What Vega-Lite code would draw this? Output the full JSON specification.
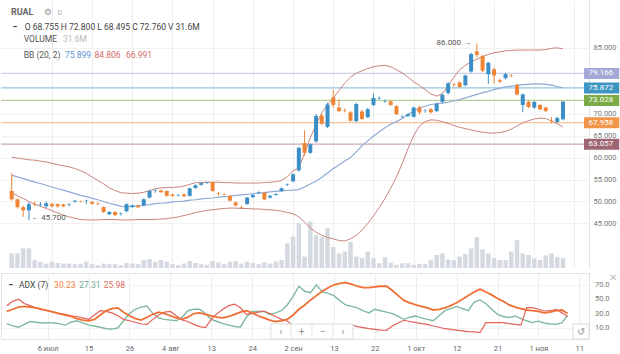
{
"$schema":"https://vega.github.io/schema/vega-lite/v6.json",
"padding":0,
"background":"white",
"config":{"view":{"stroke":null},"font":"Roboto","axis":{"labelFont":"Roboto","labelOverlap":false},"text":{"font":"Roboto"}},
"data":{"values":[
{"i":0,"o":52.4,"h":56.4,"l":50.2,"c":50.5,"v":46,"bu":60.1,"bm":56.0,"bl":52.0,"adx":33,"pdi":16,"mdi":41},
{"i":1,"o":50.5,"h":50.6,"l":48.4,"c":48.7,"v":46,"bu":59.9,"bm":55.6,"bl":51.3,"adx":36,"pdi":13,"mdi":47},
{"i":2,"o":48.7,"h":49.0,"l":46.5,"c":48.0,"v":62,"bu":59.7,"bm":55.2,"bl":50.7,"adx":39,"pdi":11,"mdi":50},
{"i":3,"o":48.0,"h":49.8,"l":45.7,"c":49.4,"v":62,"bu":59.5,"bm":54.8,"bl":50.0,"adx":40,"pdi":15,"mdi":44},
{"i":4,"o":49.4,"h":50.0,"l":48.9,"c":49.3,"v":25,"bu":59.4,"bm":54.4,"bl":49.4,"adx":39,"pdi":19,"mdi":41},
{"i":5,"o":49.3,"h":49.9,"l":48.8,"c":49.4,"v":20,"bu":59.2,"bm":54.1,"bl":48.9,"adx":38,"pdi":18,"mdi":38},
{"i":6,"o":48.9,"h":50.0,"l":48.5,"c":49.6,"v":14,"bu":59.0,"bm":53.7,"bl":48.4,"adx":36,"pdi":17,"mdi":36},
{"i":7,"o":49.4,"h":49.7,"l":48.7,"c":48.9,"v":20,"bu":58.7,"bm":53.3,"bl":47.9,"adx":34,"pdi":17.5,"mdi":34},
{"i":8,"o":49.4,"h":49.6,"l":48.6,"c":48.9,"v":16,"bu":58.4,"bm":52.9,"bl":47.4,"adx":32,"pdi":17,"mdi":32},
{"i":9,"o":49.3,"h":49.5,"l":48.7,"c":48.9,"v":14,"bu":58.1,"bm":52.6,"bl":46.9,"adx":30,"pdi":16,"mdi":30},
{"i":10,"o":49.2,"h":49.6,"l":48.9,"c":49.3,"v":14,"bu":57.9,"bm":52.2,"bl":46.5,"adx":28,"pdi":14,"mdi":29},
{"i":11,"o":50.0,"h":50.3,"l":49.7,"c":50.2,"v":12,"bu":57.5,"bm":51.8,"bl":46.2,"adx":26,"pdi":18,"mdi":27},
{"i":12,"o":50.1,"h":50.2,"l":49.8,"c":50.0,"v":14,"bu":57.0,"bm":51.4,"bl":45.9,"adx":23,"pdi":20,"mdi":26},
{"i":13,"o":50.1,"h":50.4,"l":49.4,"c":50.2,"v":20,"bu":56.4,"bm":51.1,"bl":45.8,"adx":21,"pdi":17,"mdi":24},
{"i":14,"o":49.9,"h":50.1,"l":49.3,"c":49.5,"v":12,"bu":55.6,"bm":50.7,"bl":45.8,"adx":20,"pdi":14,"mdi":22},
{"i":15,"o":49.5,"h":49.8,"l":49.2,"c":49.4,"v":9,"bu":54.8,"bm":50.4,"bl":45.8,"adx":22,"pdi":12.8,"mdi":28},
{"i":16,"o":48.7,"h":48.9,"l":47.4,"c":47.6,"v":14,"bu":54.0,"bm":50.0,"bl":45.9,"adx":28,"pdi":11,"mdi":34},
{"i":17,"o":47.1,"h":47.8,"l":46.9,"c":47.6,"v":12,"bu":53.1,"bm":49.6,"bl":45.9,"adx":34,"pdi":9,"mdi":33},
{"i":18,"o":47.6,"h":47.8,"l":46.7,"c":46.9,"v":12,"bu":52.5,"bm":49.3,"bl":45.9,"adx":37,"pdi":8.5,"mdi":31},
{"i":19,"o":47.2,"h":47.5,"l":46.8,"c":47.3,"v":9,"bu":52.0,"bm":48.9,"bl":45.8,"adx":38,"pdi":10,"mdi":27},
{"i":20,"o":47.8,"h":49.6,"l":47.5,"c":49.4,"v":16,"bu":51.9,"bm":48.8,"bl":45.8,"adx":32,"pdi":20,"mdi":22},
{"i":21,"o":48.7,"h":49.3,"l":48.6,"c":49.1,"v":14,"bu":51.8,"bm":48.9,"bl":45.8,"adx":27,"pdi":30,"mdi":20},
{"i":22,"o":49.1,"h":49.3,"l":48.5,"c":48.7,"v":12,"bu":51.9,"bm":49.0,"bl":45.9,"adx":23,"pdi":36,"mdi":18},
{"i":23,"o":49.1,"h":50.7,"l":48.9,"c":50.5,"v":25,"bu":52.1,"bm":49.2,"bl":45.9,"adx":21,"pdi":39,"mdi":15.5},
{"i":24,"o":50.9,"h":52.6,"l":50.7,"c":52.4,"v":28,"bu":52.5,"bm":49.3,"bl":45.9,"adx":25,"pdi":40.6,"mdi":15},
{"i":25,"o":52.4,"h":52.8,"l":52.0,"c":52.5,"v":20,"bu":52.9,"bm":49.5,"bl":45.9,"adx":29,"pdi":30,"mdi":22},
{"i":26,"o":52.5,"h":52.7,"l":52.0,"c":52.1,"v":25,"bu":53.1,"bm":49.6,"bl":46.0,"adx":32,"pdi":24,"mdi":28},
{"i":27,"o":52.4,"h":52.5,"l":51.1,"c":51.3,"v":20,"bu":53.2,"bm":49.7,"bl":46.1,"adx":30,"pdi":22,"mdi":32},
{"i":28,"o":51.6,"h":51.8,"l":51.1,"c":51.3,"v":12,"bu":53.2,"bm":49.9,"bl":46.3,"adx":27,"pdi":21,"mdi":33},
{"i":29,"o":51.4,"h":51.7,"l":51.2,"c":51.5,"v":9,"bu":53.3,"bm":50.0,"bl":46.5,"adx":24,"pdi":20,"mdi":27},
{"i":30,"o":51.6,"h":51.8,"l":51.0,"c":51.2,"v":14,"bu":53.5,"bm":50.1,"bl":46.8,"adx":22,"pdi":25,"mdi":21},
{"i":31,"o":51.3,"h":53.2,"l":51.1,"c":53.0,"v":22,"bu":53.9,"bm":50.3,"bl":47.1,"adx":25,"pdi":34,"mdi":19},
{"i":32,"o":53.1,"h":53.9,"l":52.9,"c":53.7,"v":16,"bu":54.3,"bm":50.4,"bl":47.5,"adx":30,"pdi":36,"mdi":15},
{"i":33,"o":53.8,"h":54.4,"l":53.6,"c":54.2,"v":12,"bu":54.3,"bm":50.6,"bl":47.7,"adx":31,"pdi":36,"mdi":12},
{"i":34,"o":54.2,"h":54.4,"l":54.0,"c":54.3,"v":10,"bu":54.4,"bm":50.7,"bl":48.0,"adx":29,"pdi":30,"mdi":10.5},
{"i":35,"o":54.4,"h":54.5,"l":52.2,"c":52.4,"v":22,"bu":54.4,"bm":50.8,"bl":48.1,"adx":27,"pdi":22,"mdi":22},
{"i":36,"o":51.9,"h":52.2,"l":51.4,"c":51.8,"v":18,"bu":54.4,"bm":51.0,"bl":48.3,"adx":25,"pdi":19,"mdi":30},
{"i":37,"o":51.7,"h":51.9,"l":51.4,"c":51.6,"v":12,"bu":54.3,"bm":51.1,"bl":48.4,"adx":24,"pdi":16,"mdi":36},
{"i":38,"o":51.3,"h":51.5,"l":50.0,"c":50.2,"v":20,"bu":54.3,"bm":51.2,"bl":48.5,"adx":26,"pdi":14,"mdi":41},
{"i":39,"o":49.8,"h":50.0,"l":48.9,"c":49.1,"v":22,"bu":54.2,"bm":51.4,"bl":48.5,"adx":29,"pdi":12,"mdi":43},
{"i":40,"o":48.7,"h":49.0,"l":48.3,"c":48.6,"v":14,"bu":54.2,"bm":51.5,"bl":48.4,"adx":32,"pdi":11.5,"mdi":38},
{"i":41,"o":49.4,"h":51.0,"l":49.3,"c":50.9,"v":20,"bu":54.2,"bm":51.6,"bl":48.4,"adx":34,"pdi":25,"mdi":29},
{"i":42,"o":51.0,"h":51.6,"l":50.8,"c":51.5,"v":16,"bu":54.2,"bm":51.8,"bl":48.3,"adx":31,"pdi":33,"mdi":30},
{"i":43,"o":52.0,"h":52.3,"l":51.7,"c":52.1,"v":12,"bu":54.2,"bm":51.9,"bl":48.3,"adx":27,"pdi":33,"mdi":32},
{"i":44,"o":52.0,"h":52.2,"l":50.3,"c":50.5,"v":18,"bu":54.3,"bm":52.0,"bl":48.2,"adx":24,"pdi":33,"mdi":33.6},
{"i":45,"o":50.9,"h":51.5,"l":50.7,"c":51.3,"v":14,"bu":54.4,"bm":52.2,"bl":48.1,"adx":21,"pdi":29,"mdi":30},
{"i":46,"o":51.5,"h":51.9,"l":51.3,"c":51.7,"v":20,"bu":54.5,"bm":52.3,"bl":48.0,"adx":19,"pdi":31,"mdi":26},
{"i":47,"o":52.4,"h":53.2,"l":52.2,"c":53.0,"v":25,"bu":54.8,"bm":52.4,"bl":47.8,"adx":20,"pdi":34,"mdi":22},
{"i":48,"o":53.8,"h":54.1,"l":53.5,"c":53.9,"v":78,"bu":55.7,"bm":52.5,"bl":47.5,"adx":22,"pdi":42,"mdi":19.8},
{"i":49,"o":54.6,"h":56.4,"l":54.4,"c":56.2,"v":99,"bu":57.0,"bm":52.6,"bl":47.2,"adx":28,"pdi":54,"mdi":13},
{"i":50,"o":57.1,"h":62.5,"l":56.8,"c":62.2,"v":141,"bu":57.6,"bm":52.7,"bl":46.5,"adx":36,"pdi":68,"mdi":10},
{"i":51,"o":63.3,"h":66.2,"l":60.4,"c":61.1,"v":36,"bu":61.0,"bm":53.3,"bl":45.3,"adx":42,"pdi":61,"mdi":13},
{"i":52,"o":61.1,"h":63.2,"l":60.8,"c":63.0,"v":146,"bu":64.5,"bm":54.0,"bl":44.0,"adx":49,"pdi":59,"mdi":11},
{"i":53,"o":63.7,"h":69.9,"l":63.4,"c":69.5,"v":104,"bu":67.5,"bm":54.6,"bl":43.0,"adx":55,"pdi":70,"mdi":9},
{"i":54,"o":69.5,"h":70.0,"l":67.5,"c":67.7,"v":98,"bu":70.2,"bm":55.5,"bl":42.3,"adx":61,"pdi":60,"mdi":12},
{"i":55,"o":67.0,"h":72.5,"l":66.7,"c":72.1,"v":125,"bu":72.0,"bm":56.5,"bl":41.8,"adx":66,"pdi":58,"mdi":10},
{"i":56,"o":73.7,"h":75.4,"l":71.4,"c":72.0,"v":66,"bu":73.5,"bm":57.5,"bl":41.5,"adx":70,"pdi":55,"mdi":11},
{"i":57,"o":71.4,"h":73.2,"l":70.3,"c":70.6,"v":46,"bu":75.3,"bm":58.3,"bl":41.1,"adx":72,"pdi":48,"mdi":13},
{"i":58,"o":70.7,"h":71.2,"l":70.3,"c":70.6,"v":52,"bu":77.0,"bm":59.2,"bl":41.0,"adx":73,"pdi":42,"mdi":15},
{"i":59,"o":70.3,"h":70.6,"l":68.2,"c":68.4,"v":83,"bu":78.3,"bm":60.0,"bl":41.5,"adx":71,"pdi":40,"mdi":14.5},
{"i":60,"o":68.3,"h":72.5,"l":68.1,"c":72.2,"v":36,"bu":79.2,"bm":61.3,"bl":42.3,"adx":68,"pdi":38,"mdi":12},
{"i":61,"o":70.5,"h":70.9,"l":68.6,"c":68.8,"v":31,"bu":79.8,"bm":62.7,"bl":43.5,"adx":66,"pdi":34,"mdi":10.5},
{"i":62,"o":69.2,"h":71.3,"l":69.0,"c":71.0,"v":52,"bu":80.3,"bm":63.8,"bl":45.0,"adx":66,"pdi":31,"mdi":9},
{"i":63,"o":72.0,"h":74.6,"l":71.7,"c":73.6,"v":31,"bu":80.7,"bm":64.9,"bl":46.7,"adx":67,"pdi":36,"mdi":8},
{"i":64,"o":73.5,"h":73.9,"l":73.2,"c":73.6,"v":15,"bu":80.9,"bm":65.9,"bl":48.6,"adx":68,"pdi":34,"mdi":7},
{"i":65,"o":72.8,"h":73.2,"l":72.5,"c":72.9,"v":34,"bu":81.0,"bm":66.8,"bl":50.7,"adx":68,"pdi":32,"mdi":6.8},
{"i":66,"o":72.8,"h":73.1,"l":71.8,"c":72.0,"v":17,"bu":80.7,"bm":67.6,"bl":53.0,"adx":62,"pdi":30,"mdi":12.8},
{"i":67,"o":71.7,"h":72.0,"l":69.7,"c":69.9,"v":10,"bu":80.0,"bm":68.2,"bl":55.6,"adx":55,"pdi":26,"mdi":17},
{"i":68,"o":69.3,"h":69.6,"l":69.0,"c":69.35,"v":15,"bu":79.3,"bm":68.9,"bl":58.6,"adx":48,"pdi":22,"mdi":20.7},
{"i":69,"o":69.5,"h":70.0,"l":69.2,"c":69.9,"v":15,"bu":78.3,"bm":69.8,"bl":62.0,"adx":45,"pdi":25,"mdi":19},
{"i":70,"o":69.3,"h":71.6,"l":69.1,"c":71.4,"v":10,"bu":77.3,"bm":70.6,"bl":65.0,"adx":42,"pdi":26.7,"mdi":17.4},
{"i":71,"o":71.4,"h":71.8,"l":69.8,"c":70.3,"v":13,"bu":76.4,"bm":71.3,"bl":67.2,"adx":40,"pdi":24,"mdi":16},
{"i":72,"o":70.6,"h":71.0,"l":70.2,"c":70.65,"v":13,"bu":75.5,"bm":71.7,"bl":68.2,"adx":38,"pdi":22,"mdi":15},
{"i":73,"o":71.0,"h":71.3,"l":70.0,"c":70.3,"v":25,"bu":74.5,"bm":72.1,"bl":68.6,"adx":35,"pdi":20,"mdi":12.8},
{"i":74,"o":70.6,"h":72.5,"l":70.4,"c":72.2,"v":41,"bu":74.0,"bm":72.3,"bl":68.5,"adx":36,"pdi":27,"mdi":11},
{"i":75,"o":72.7,"h":74.6,"l":72.4,"c":74.3,"v":46,"bu":74.6,"bm":72.4,"bl":68.2,"adx":38,"pdi":34,"mdi":9},
{"i":76,"o":74.7,"h":77.2,"l":74.4,"c":76.9,"v":27,"bu":76.3,"bm":72.6,"bl":67.8,"adx":41,"pdi":37,"mdi":8},
{"i":77,"o":76.6,"h":77.0,"l":76.2,"c":76.5,"v":25,"bu":78.3,"bm":72.9,"bl":67.3,"adx":45,"pdi":40,"mdi":7},
{"i":78,"o":77.1,"h":77.4,"l":75.9,"c":76.1,"v":36,"bu":80.0,"bm":73.2,"bl":66.9,"adx":50,"pdi":37,"mdi":6},
{"i":79,"o":76.5,"h":78.9,"l":76.2,"c":78.7,"v":44,"bu":81.0,"bm":73.6,"bl":66.6,"adx":55,"pdi":34,"mdi":5},
{"i":80,"o":79.6,"h":83.9,"l":79.3,"c":83.6,"v":62,"bu":81.8,"bm":74.0,"bl":66.3,"adx":60,"pdi":46,"mdi":4.5},
{"i":81,"o":84.2,"h":86.0,"l":82.8,"c":83.4,"v":97,"bu":82.4,"bm":74.4,"bl":66.0,"adx":64,"pdi":49,"mdi":3.6},
{"i":82,"o":83.1,"h":83.4,"l":79.5,"c":79.8,"v":59,"bu":83.0,"bm":74.8,"bl":65.8,"adx":60,"pdi":44,"mdi":17.4},
{"i":83,"o":79.0,"h":81.8,"l":76.8,"c":81.6,"v":46,"bu":83.5,"bm":75.1,"bl":65.6,"adx":56,"pdi":36,"mdi":17.4},
{"i":84,"o":80.1,"h":80.5,"l":76.9,"c":78.7,"v":31,"bu":83.9,"bm":75.5,"bl":65.6,"adx":51,"pdi":29,"mdi":17.4},
{"i":85,"o":77.6,"h":77.9,"l":77.0,"c":77.3,"v":25,"bu":84.1,"bm":75.8,"bl":65.7,"adx":47,"pdi":26,"mdi":17.4},
{"i":86,"o":78.1,"h":79.3,"l":77.8,"c":79.0,"v":25,"bu":84.3,"bm":76.1,"bl":66.0,"adx":42,"pdi":24.5,"mdi":16},
{"i":87,"o":78.7,"h":79.0,"l":78.3,"c":78.6,"v":52,"bu":84.4,"bm":76.3,"bl":66.5,"adx":39,"pdi":26.7,"mdi":15.1},
{"i":88,"o":76.5,"h":76.8,"l":74.2,"c":74.4,"v":88,"bu":84.5,"bm":76.5,"bl":67.2,"adx":37,"pdi":23,"mdi":14},
{"i":89,"o":72.0,"h":74.6,"l":70.3,"c":74.4,"v":46,"bu":84.5,"bm":76.6,"bl":67.9,"adx":35,"pdi":20,"mdi":38.3},
{"i":90,"o":72.7,"h":73.0,"l":71.3,"c":71.5,"v":41,"bu":84.5,"bm":76.7,"bl":68.4,"adx":34,"pdi":17.5,"mdi":38.3},
{"i":91,"o":71.4,"h":72.9,"l":71.1,"c":72.7,"v":30,"bu":84.5,"bm":76.8,"bl":68.8,"adx":33,"pdi":19.5,"mdi":36},
{"i":92,"o":72.0,"h":72.2,"l":70.8,"c":71.0,"v":25,"bu":84.5,"bm":76.8,"bl":69.0,"adx":31,"pdi":17,"mdi":33.6},
{"i":93,"o":71.4,"h":71.6,"l":70.4,"c":70.6,"v":40,"bu":84.6,"bm":76.7,"bl":68.9,"adx":32,"pdi":15.5,"mdi":34},
{"i":94,"o":68.5,"h":69.2,"l":67.8,"c":68.4,"v":46,"bu":84.9,"bm":76.5,"bl":68.3,"adx":34,"pdi":15,"mdi":36},
{"i":95,"o":68.1,"h":69.3,"l":67.9,"c":69.0,"v":34,"bu":85.0,"bm":76.2,"bl":67.7,"adx":35,"pdi":17,"mdi":31.3},
{"i":96,"o":68.755,"h":72.8,"l":68.495,"c":72.76,"v":31.6,"bu":84.806,"bm":75.899,"bl":66.991,"adx":30.23,"pdi":27.31,"mdi":25.98}
]},
"spacing":4,
"vconcat":[
{
"width":588,"height":268,
"resolve":{"scale":{"y":"independent"}},
"layer":[
{"mark":{"type":"bar","size":4.5,"color":"#d5dae0"},
 "encoding":{
  "x":{"field":"i","type":"quantitative","scale":{"domain":[-0.993,99.66],"nice":false,"zero":false},
       "axis":{"values":[7,14,21,28,35,42,49,56,63,70,77,84,91,98],"grid":true,"gridColor":"#eeeeee","labels":false,"ticks":false,"domain":false,"title":null}},
  "y":{"field":"v","type":"quantitative","scale":{"domain":[0,845],"nice":false},"axis":null}}},
{"layer":[
 {"data":{"values":[{"name":"L1","p":79.166},{"name":"L2","p":75.872},{"name":"L3","p":73.028},{"name":"L4","p":67.958},{"name":"L5","p":63.057}]},
  "mark":{"type":"rule","strokeWidth":1.3,"opacity":0.55},
  "encoding":{
   "y":{"field":"p","type":"quantitative","scale":{"domain":[35.99,94.76],"nice":false,"zero":false},
        "axis":{"orient":"right","values":[45,50,55,60,65,70,85],"format":".3f","labelOverlap":false,"grid":true,"gridColor":"#f1f1f1","ticks":false,"domain":true,"domainColor":"#e3e3e3","labelColor":"#777","labelFontSize":7.5,"labelPadding":4,"title":null}},
   "color":{"field":"name","type":"nominal","scale":{"domain":["L1","L2","L3","L4","L5"],"range":["#a3a8d6","#3d95c2","#7cab45","#f0954a","#9e6673"]},"legend":null}}},
 {"mark":{"type":"line","color":"#c98580","strokeWidth":1},
  "encoding":{"x":{"field":"i","type":"quantitative"},"y":{"field":"bu","type":"quantitative"}}},
 {"mark":{"type":"line","color":"#c98580","strokeWidth":1},
  "encoding":{"x":{"field":"i","type":"quantitative"},"y":{"field":"bl","type":"quantitative"}}},
 {"mark":{"type":"line","color":"#8eaad6","strokeWidth":1.2},
  "encoding":{"x":{"field":"i","type":"quantitative"},"y":{"field":"bm","type":"quantitative"}}},
 {"mark":{"type":"rule","strokeWidth":1},
  "encoding":{"x":{"field":"i","type":"quantitative"},"y":{"field":"l","type":"quantitative"},"y2":{"field":"h"},
   "color":{"condition":{"test":"datum.c >= datum.o","value":"#3a8fc6"},"value":"#ee8434"}}},
 {"mark":{"type":"bar","size":4},
  "encoding":{"x":{"field":"i","type":"quantitative"},"y":{"field":"o","type":"quantitative"},"y2":{"field":"c"},
   "color":{"condition":{"test":"datum.c >= datum.o","value":"#3a8fc6"},"value":"#ee8434"}}},
 {"data":{"values":[{"name":"L1","p":79.166},{"name":"L2","p":75.872},{"name":"L3","p":73.028},{"name":"L4","p":67.958},{"name":"L5","p":63.057}]},
  "mark":{"type":"bar","orient":"horizontal","size":11},
  "encoding":{"x":{"datum":99.66,"type":"quantitative"},"x2":{"datum":105.8},"y":{"field":"p","type":"quantitative"},
   "color":{"field":"name","type":"nominal","legend":null}}},
 {"data":{"values":[{"name":"L1","p":79.166},{"name":"L2","p":75.872},{"name":"L3","p":73.028},{"name":"L4","p":67.958},{"name":"L5","p":63.057}]},
  "mark":{"type":"text","color":"white","fontSize":8,"align":"center","baseline":"middle"},
  "encoding":{"x":{"datum":102.6,"type":"quantitative"},"y":{"field":"p","type":"quantitative"},"text":{"field":"p","type":"quantitative","format":".3f"}}},
 {"data":{"values":[{}]},"mark":{"type":"text","align":"left","baseline":"middle","fontSize":9,"fontWeight":"bold","color":"#666"},
  "encoding":{"x":{"datum":-0.14,"type":"quantitative"},"y":{"datum":93.16,"type":"quantitative"},"text":{"value":"RUAL"}}},
 {"data":{"values":[{}]},"mark":{"type":"text","align":"left","baseline":"middle","fontSize":9,"color":"#999"},
  "encoding":{"x":{"datum":5.6,"type":"quantitative"},"y":{"datum":93.16,"type":"quantitative"},"text":{"value":"⚙"}}},
 {"data":{"values":[{}]},"mark":{"type":"text","align":"left","baseline":"middle","fontSize":6.5,"color":"#aaa"},
  "encoding":{"x":{"datum":8.0,"type":"quantitative"},"y":{"datum":93.0,"type":"quantitative"},"text":{"value":"D"}}},
 {"data":{"values":[{}]},"mark":{"type":"text","align":"left","baseline":"middle","fontSize":9,"fontWeight":"bold","color":"#333"},
  "encoding":{"x":{"datum":0.1,"type":"quantitative"},"y":{"datum":89.65,"type":"quantitative"},"text":{"value":"−"}}},
 {"data":{"values":[{}]},"mark":{"type":"text","align":"left","baseline":"middle","fontSize":8.5,"color":"#444"},
  "encoding":{"x":{"datum":2.26,"type":"quantitative"},"y":{"datum":89.65,"type":"quantitative"},"text":{"value":"O 68.755  H 72.800  L 68.495  C 72.760  V 31.6M"}}},
 {"data":{"values":[{}]},"mark":{"type":"text","align":"left","baseline":"middle","fontSize":8.5,"color":"#555"},
  "encoding":{"x":{"datum":2.09,"type":"quantitative"},"y":{"datum":86.93,"type":"quantitative"},"text":{"value":"VOLUME"}}},
 {"data":{"values":[{}]},"mark":{"type":"text","align":"left","baseline":"middle","fontSize":8.5,"color":"#bbb"},
  "encoding":{"x":{"datum":8.94,"type":"quantitative"},"y":{"datum":86.93,"type":"quantitative"},"text":{"value":"31.6M"}}},
 {"data":{"values":[{}]},"mark":{"type":"text","align":"left","baseline":"middle","fontSize":8.5,"color":"#555"},
  "encoding":{"x":{"datum":2.09,"type":"quantitative"},"y":{"datum":83.42,"type":"quantitative"},"text":{"value":"BB (20, 2)"}}},
 {"data":{"values":[{}]},"mark":{"type":"text","align":"left","baseline":"middle","fontSize":8.5,"color":"#5b93d1"},
  "encoding":{"x":{"datum":9.28,"type":"quantitative"},"y":{"datum":83.42,"type":"quantitative"},"text":{"value":"75.899"}}},
 {"data":{"values":[{}]},"mark":{"type":"text","align":"left","baseline":"middle","fontSize":8.5,"color":"#d36a6a"},
  "encoding":{"x":{"datum":14.4,"type":"quantitative"},"y":{"datum":83.42,"type":"quantitative"},"text":{"value":"84.806"}}},
 {"data":{"values":[{}]},"mark":{"type":"text","align":"left","baseline":"middle","fontSize":8.5,"color":"#d36a6a"},
  "encoding":{"x":{"datum":19.9,"type":"quantitative"},"y":{"datum":83.42,"type":"quantitative"},"text":{"value":"66.991"}}},
 {"data":{"values":[{}]},"mark":{"type":"text","align":"right","baseline":"middle","fontSize":8,"color":"#555"},
  "encoding":{"x":{"datum":80.0,"type":"quantitative"},"y":{"datum":86.0,"type":"quantitative"},"text":{"value":"86.000 →"}}},
 {"data":{"values":[{}]},"mark":{"type":"text","align":"left","baseline":"middle","fontSize":8,"color":"#555"},
  "encoding":{"x":{"datum":3.4,"type":"quantitative"},"y":{"datum":46.2,"type":"quantitative"},"text":{"value":"← 45.700"}}}
]}
]
},
{
"width":588,"height":66,
"view":{"stroke":"#e2e2e2"},
"layer":[
 {"mark":{"type":"line","color":"#80b99e","strokeWidth":1.4},
  "encoding":{
   "x":{"field":"i","type":"quantitative","scale":{"domain":[-0.993,99.66],"nice":false,"zero":false},
        "axis":{"values":[7,14,21,28,35,42,49,56,63,70,77,84,91,98],"labelExpr":"datum.value==7?'6 июл':datum.value==14?'15':datum.value==21?'26':datum.value==28?'4 авг':datum.value==35?'13':datum.value==42?'24':datum.value==49?'2 сен':datum.value==56?'13':datum.value==63?'22':datum.value==70?'1 окт':datum.value==77?'12':datum.value==84?'21':datum.value==91?'1 ноя':'11'","labelOverlap":false,"grid":true,"gridColor":"#eeeeee","ticks":false,"domain":false,"labelColor":"#666","labelFontSize":7.5,"labelPadding":5,"labelFlush":false,"title":null}},
   "y":{"field":"pdi","type":"quantitative","scale":{"domain":[-5.3,86.4],"nice":false,"zero":false},
        "axis":{"orient":"right","values":[10,30,50,70],"labels":false,"grid":true,"gridColor":"#f3f3f3","ticks":false,"domain":false,"title":null}}}},
 {"mark":{"type":"line","color":"#e2625a","strokeWidth":1.2},
  "encoding":{"x":{"field":"i","type":"quantitative"},"y":{"field":"mdi","type":"quantitative"}}},
 {"mark":{"type":"line","color":"#f06f36","strokeWidth":1.8},
  "encoding":{"x":{"field":"i","type":"quantitative"},"y":{"field":"adx","type":"quantitative"}}},
 {"data":{"values":[{"t":10},{"t":30},{"t":50},{"t":70}]},
  "mark":{"type":"text","align":"left","baseline":"middle","fontSize":7.5,"color":"#777"},
  "encoding":{"x":{"datum":100.68,"type":"quantitative"},"y":{"field":"t","type":"quantitative"},"text":{"field":"t","type":"quantitative","format":".1f"}}},
 {"data":{"values":[{}]},"mark":{"type":"text","align":"left","baseline":"middle","fontSize":9,"fontWeight":"bold","color":"#333"},
  "encoding":{"x":{"datum":0.2,"type":"quantitative"},"y":{"datum":69.7,"type":"quantitative"},"text":{"value":"−"}}},
 {"data":{"values":[{}]},"mark":{"type":"text","align":"left","baseline":"middle","fontSize":8.5,"color":"#444"},
  "encoding":{"x":{"datum":2.1,"type":"quantitative"},"y":{"datum":69.7,"type":"quantitative"},"text":{"value":"ADX (7)"}}},
 {"data":{"values":[{}]},"mark":{"type":"text","align":"left","baseline":"middle","fontSize":8.5,"color":"#f08040"},
  "encoding":{"x":{"datum":8.1,"type":"quantitative"},"y":{"datum":69.7,"type":"quantitative"},"text":{"value":"30.23"}}},
 {"data":{"values":[{}]},"mark":{"type":"text","align":"left","baseline":"middle","fontSize":8.5,"color":"#6faa8c"},
  "encoding":{"x":{"datum":12.4,"type":"quantitative"},"y":{"datum":69.7,"type":"quantitative"},"text":{"value":"27.31"}}},
 {"data":{"values":[{}]},"mark":{"type":"text","align":"left","baseline":"middle","fontSize":8.5,"color":"#e06a60"},
  "encoding":{"x":{"datum":16.6,"type":"quantitative"},"y":{"datum":69.7,"type":"quantitative"},"text":{"value":"25.98"}}},
 {"data":{"values":[{}]},"mark":{"type":"rect","fill":"white","stroke":"#dddddd","strokeWidth":1},
  "encoding":{"x":{"datum":45.2,"type":"quantitative"},"x2":{"datum":59.26},"y":{"datum":15.6,"type":"quantitative"},"y2":{"datum":-5.3}}},
 {"data":{"values":[{}]},"mark":{"type":"rule","color":"#e4e4e4","strokeWidth":1},
  "encoding":{"x":{"datum":48.65,"type":"quantitative"},"y":{"datum":15.6,"type":"quantitative"},"y2":{"datum":-5.3}}},
 {"data":{"values":[{}]},"mark":{"type":"rule","color":"#e4e4e4","strokeWidth":1},
  "encoding":{"x":{"datum":52.24,"type":"quantitative"},"y":{"datum":15.6,"type":"quantitative"},"y2":{"datum":-5.3}}},
 {"data":{"values":[{}]},"mark":{"type":"rule","color":"#e4e4e4","strokeWidth":1},
  "encoding":{"x":{"datum":55.83,"type":"quantitative"},"y":{"datum":15.6,"type":"quantitative"},"y2":{"datum":-5.3}}},
 {"data":{"values":[{}]},"mark":{"type":"text","align":"center","baseline":"middle","fontSize":11,"color":"#999"},
  "encoding":{"x":{"datum":46.9,"type":"quantitative"},"y":{"datum":5.0,"type":"quantitative"},"text":{"value":"‹"}}},
 {"data":{"values":[{}]},"mark":{"type":"text","align":"center","baseline":"middle","fontSize":11,"color":"#999"},
  "encoding":{"x":{"datum":50.45,"type":"quantitative"},"y":{"datum":5.0,"type":"quantitative"},"text":{"value":"+"}}},
 {"data":{"values":[{}]},"mark":{"type":"text","align":"center","baseline":"middle","fontSize":11,"color":"#999"},
  "encoding":{"x":{"datum":54.05,"type":"quantitative"},"y":{"datum":5.0,"type":"quantitative"},"text":{"value":"−"}}},
 {"data":{"values":[{}]},"mark":{"type":"text","align":"center","baseline":"middle","fontSize":11,"color":"#999"},
  "encoding":{"x":{"datum":57.55,"type":"quantitative"},"y":{"datum":5.0,"type":"quantitative"},"text":{"value":"›"}}},
 {"data":{"values":[{}]},"mark":{"type":"rect","fill":"white","stroke":"#dddddd","strokeWidth":1},
  "encoding":{"x":{"datum":96.9,"type":"quantitative"},"x2":{"datum":99.66},"y":{"datum":15.6,"type":"quantitative"},"y2":{"datum":-5.3}}},
 {"data":{"values":[{}]},"mark":{"type":"text","align":"center","baseline":"middle","fontSize":10,"color":"#999"},
  "encoding":{"x":{"datum":98.3,"type":"quantitative"},"y":{"datum":5.0,"type":"quantitative"},"text":{"value":"↺"}}},
 {"data":{"values":[{}]},"mark":{"type":"text","align":"center","baseline":"middle","fontSize":10,"color":"#bbb"},
  "encoding":{"x":{"datum":103.8,"type":"quantitative"},"y":{"datum":79.4,"type":"quantitative"},"text":{"value":"✕"}}}
]
}
]
}
